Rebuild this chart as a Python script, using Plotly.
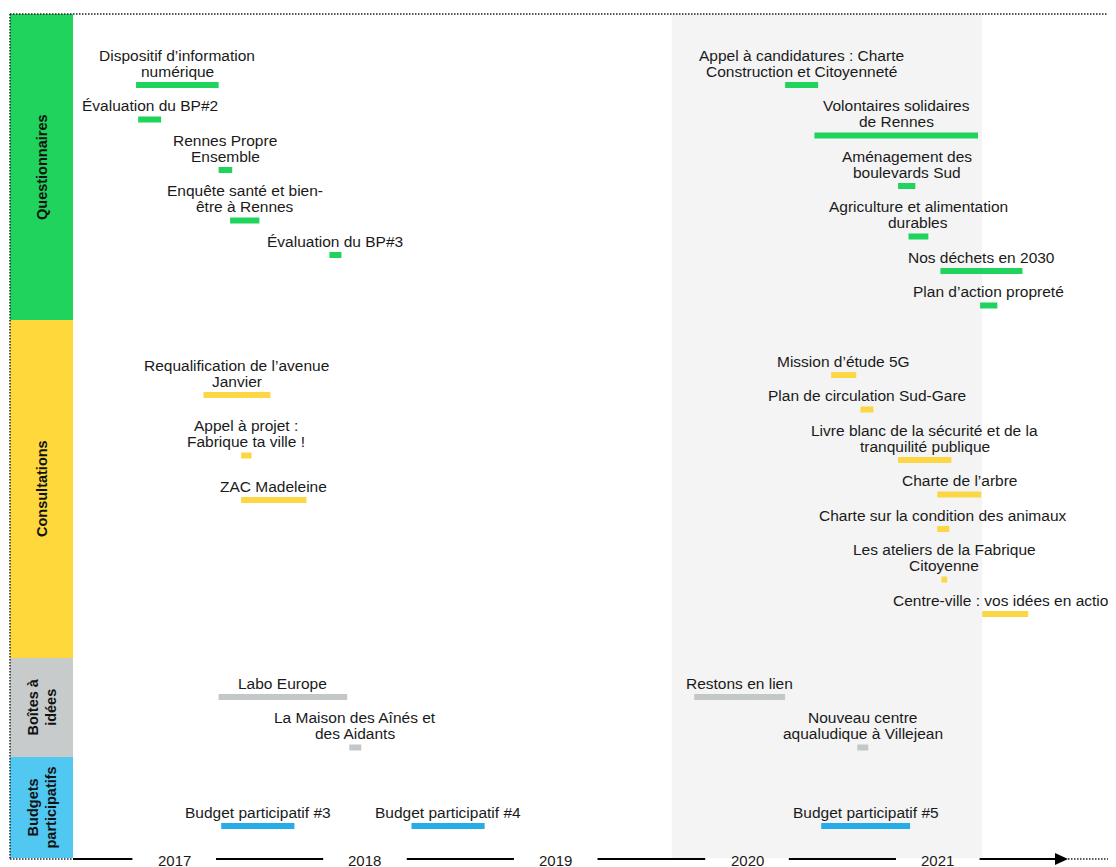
import plotly.graph_objects as go
import pandas as pd

# ---------------- data ----------------
categories = ["Questionnaires", "Consultations", "Boîtes à idées", "Budgets participatifs"]
category_titles = ["Questionnaires", "Consultations", "Boîtes à<br>idées", "Budgets<br>participatifs"]
category_colors = ["#1FD35C", "#FFD83C", "#C8CBCB", "#50C8F2"]
bar_colors = ["#1FD35C", "#FCD745", "#C4C7C7", "#27ACE8"]

event_labels = [
    "Dispositif d’information<br>numérique",
    "Évaluation du BP#2",
    "Rennes Propre<br>Ensemble",
    "Enquête santé et bien-<br>être à Rennes",
    "Évaluation du BP#3",
    "Appel à candidatures : Charte<br>Construction et Citoyenneté",
    "Volontaires solidaires<br>de Rennes",
    "Aménagement des<br>boulevards Sud",
    "Agriculture et alimentation<br>durables",
    "Nos déchets en 2030",
    "Plan d’action propreté",
    "Requalification de l’avenue<br>Janvier",
    "Appel à projet :<br>Fabrique ta ville !",
    "ZAC Madeleine",
    "Mission d’étude 5G",
    "Plan de circulation Sud-Gare",
    "Livre blanc de la sécurité et de la<br>tranquilité publique",
    "Charte de l’arbre",
    "Charte sur la condition des animaux",
    "Les ateliers de la Fabrique<br>Citoyenne",
    "Centre-ville : vos idées en action",
    "Labo Europe",
    "La Maison des Aînés et<br>des Aidants",
    "Restons en lien",
    "Nouveau centre<br>aqualudique à Villejean",
    "Budget participatif #3",
    "Budget participatif #4",
    "Budget participatif #5",
]
event_category = [0] * 11 + [1] * 10 + [2] * 4 + [3] * 3
event_start = [
    "2017-04-20", "2017-04-24", "2017-09-25", "2017-10-17", "2018-04-25",
    "2020-09-13", "2020-11-08", "2021-04-17", "2021-05-07", "2021-07-07", "2021-09-21",
    "2017-08-27", "2017-11-07", "2017-11-07",
    "2020-12-10", "2021-02-04", "2021-04-17", "2021-07-01", "2021-07-01", "2021-07-09", "2021-09-25",
    "2017-09-25", "2018-06-02", "2020-03-23", "2021-01-29",
    "2017-09-30", "2018-09-29", "2020-11-21",
]
event_end = [
    "2017-09-25", "2017-06-07", "2017-10-21", "2017-12-12", "2018-05-18",
    "2020-11-15", "2021-09-17", "2021-05-20", "2021-06-14", "2021-12-11", "2021-10-24",
    "2018-01-02", "2017-11-27", "2018-03-12",
    "2021-01-27", "2021-03-01", "2021-07-28", "2021-09-23", "2021-07-24", "2021-07-20", "2021-12-22",
    "2018-05-29", "2018-06-25", "2020-09-13", "2021-02-19",
    "2018-02-17", "2019-02-16", "2021-05-10",
]
years = [2017, 2018, 2019, 2020, 2021]
period_start, period_end = "2020-02-09", "2021-09-25"

# ---------------- layout constants (screen pixels) ----------------
SW, SH = 1116, 867          # browser window
OFF = 8                     # page body margin
FW, FH = SW - OFF, SH - OFF  # figure size
x_range = ["2016-08-18", "2022-06-08"]   # screen x from OFF to SW
r0, r1 = pd.Timestamp(x_range[0]), pd.Timestamp(x_range[1])
group_bounds = [14, 320, 658, 757, 858]
group_pad = [39, 39, 23, 53]
group_stacked = [True, True, True, False]
col_pad = {(1, 0): 43}       # looser spacing for the left consultations column
col_gap = {(1, 0): 28.5}
ROW_GAP, LINE_H = 18.5, 16
AXIS_Y = 859
FONT = "Liberation Sans, Arial, sans-serif"
TXT = "#1a1a1a"


def px_to_date(px):
    return r0 + (r1 - r0) * ((px - OFF) / FW)


def px_paper(px):
    return (px - OFF) / FW


# vertical stacking of events: two columns per group (before/after mid-2019)
split = pd.Timestamp("2019-07-01")
event_y = [0.0] * len(event_labels)
cursor = {}
for i, lab in enumerate(event_labels):
    g = event_category[i]
    col = 0 if pd.Timestamp(event_start[i]) < split else 1
    n = lab.count("<br>") + 1
    key = (g, col)
    if key not in cursor or not group_stacked[g]:
        y = group_bounds[g] + col_pad.get(key, group_pad[g]) + LINE_H * n
    else:
        y = cursor[key] + col_gap.get(key, ROW_GAP) + LINE_H * n
    cursor[key] = y
    event_y[i] = y

fig = go.Figure()

for g, cat in enumerate(categories):
    xs, ys = [], []
    for i in range(len(event_labels)):
        if event_category[i] == g:
            xs += [event_start[i], event_end[i], None]
            ys += [event_y[i], event_y[i], None]
    fig.add_trace(go.Scatter(x=xs, y=ys, mode="lines", name=cat,
                             line=dict(color=bar_colors[g], width=6),
                             hoverinfo="skip"))

shapes = []
shapes.append(dict(type="rect", xref="x", yref="y", x0=period_start, x1=period_end,
                   y0=group_bounds[0], y1=group_bounds[-1], fillcolor="#F4F4F4",
                   line=dict(width=0), layer="below"))
for g in range(len(categories)):
    shapes.append(dict(type="rect", xref="paper", yref="y", x0=px_paper(10), x1=px_paper(73),
                       y0=group_bounds[g], y1=group_bounds[g + 1],
                       fillcolor=category_colors[g], line=dict(width=0), layer="below"))
dot = dict(color="#222", width=1.5, dash="1.5px,1.5px")
shapes.append(dict(type="line", xref="paper", yref="y", x0=px_paper(10), x1=1, y0=14, y1=14, line=dot))
shapes.append(dict(type="line", xref="paper", yref="y", x0=px_paper(10), x1=px_paper(10), y0=14, y1=AXIS_Y, line=dot))
shapes.append(dict(type="line", xref="paper", yref="y", x0=px_paper(10), x1=px_paper(73), y0=AXIS_Y, y1=AXIS_Y, line=dot))
shapes.append(dict(type="line", xref="paper", yref="y", x0=px_paper(1068), x1=1, y0=AXIS_Y, y1=AXIS_Y, line=dot))

gap = pd.Timedelta(days=80)
mids = [pd.Timestamp(f"{y}-07-02") for y in years]
seg_starts = [px_to_date(73)] + [m + gap for m in mids]
seg_ends = [m - gap for m in mids] + [px_to_date(1056)]
for a, b in zip(seg_starts, seg_ends):
    shapes.append(dict(type="line", xref="x", yref="y", x0=a, x1=b, y0=AXIS_Y, y1=AXIS_Y,
                       line=dict(color="#000", width=2)))
shapes.append(dict(type="path", xref="paper", yref="y",
                   path=f"M {px_paper(1055)},{AXIS_Y - 6} L {px_paper(1068)},{AXIS_Y} L {px_paper(1055)},{AXIS_Y + 6} Z",
                   fillcolor="#000", line=dict(width=0)))

annotations = []
for i, lab in enumerate(event_labels):
    mid = pd.Timestamp(event_start[i]) + (pd.Timestamp(event_end[i]) - pd.Timestamp(event_start[i])) / 2
    lines = lab.split("<br>")
    n = len(lines)
    for k, line in enumerate(lines):
        annotations.append(dict(x=mid, y=event_y[i] - 14 - (n - 1 - k) * LINE_H, xref="x", yref="y",
                                text=line, showarrow=False, xanchor="center", yanchor="middle",
                                font=dict(family=FONT, size=15.5, color=TXT)))
for y, m in zip(years, mids):
    annotations.append(dict(x=m, y=AXIS_Y + 1, xref="x", yref="y", text=str(y), showarrow=False,
                            xanchor="center", yanchor="middle",
                            font=dict(family=FONT, size=15, color=TXT)))
for g, t in enumerate(category_titles):
    annotations.append(dict(x=px_paper(42), y=(group_bounds[g] + group_bounds[g + 1]) / 2, xref="paper", yref="y",
                            text=f"<b>{t}</b>", showarrow=False, textangle=-90,
                            xanchor="center", yanchor="middle",
                            font=dict(family=FONT, size=14.5, color="#111")))

fig.update_layout(
    width=FW, height=FH, margin=dict(l=0, r=0, t=0, b=0),
    paper_bgcolor="white", plot_bgcolor="white", showlegend=False,
    xaxis=dict(type="date", range=x_range, visible=False, fixedrange=True),
    yaxis=dict(range=[SH, OFF], visible=False, fixedrange=True),
    shapes=shapes, annotations=annotations,
)

fig.write_html("out.html")
